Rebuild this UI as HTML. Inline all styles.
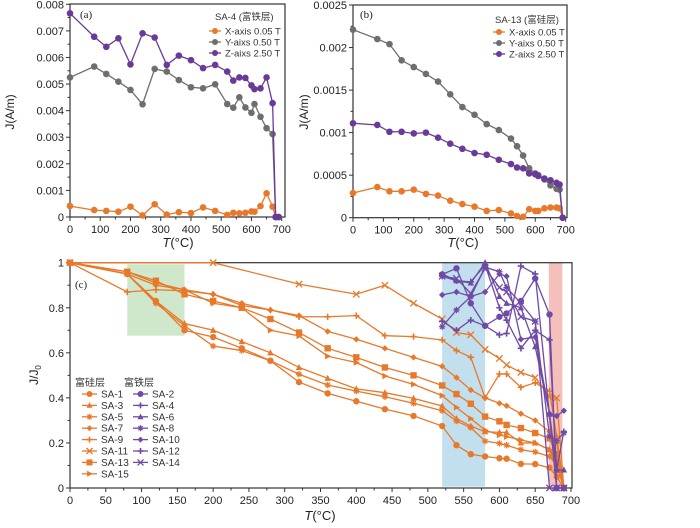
<!DOCTYPE html>
<html><head><meta charset="utf-8"><style>
body{margin:0;background:#fff}
svg{font-family:"Liberation Sans","Noto Sans CJK SC",sans-serif}
</style></head><body>
<svg id="s" width="700" height="523" viewBox="0 0 700 523"></svg>
<script>
const T_AB=[0,80,120,160,200,240,280,320,360,400,440,480,520,540,560,580,600,610,630,650,670,680,690];
const A_X=[0.00041,0.00026,0.00023,0.0002,0.00039,0.00006,0.00048,0.00009,0.00018,0.00015,0.00036,0.00023,0.00008,0.00016,0.00014,0.00016,0.00021,0.0002,0.00041,0.00089,0.00039,0,0];
const A_Y=[0.00525,0.00566,0.00538,0.00509,0.00478,0.00424,0.00557,0.00547,0.00515,0.00488,0.00484,0.00499,0.00425,0.00411,0.0045,0.00412,0.00392,0.00425,0.00377,0.00334,0.00312,0,0];
const A_Z=[0.00766,0.00678,0.0064,0.00672,0.00574,0.00691,0.00675,0.00572,0.00607,0.0059,0.0056,0.00572,0.00547,0.00513,0.00525,0.00523,0.00495,0.00481,0.00484,0.00525,0.00428,0,0];
const B_X=[0.00029,0.00036,0.00031,0.00031,0.00033,0.00028,0.00026,0.0002,0.00016,0.00013,0.00008,0.00009,0.00005,0.00002,0.00001,0.0001,0.00008,0.00008,0.00011,0.00012,0.00012,0.00011,0];
const B_Y=[0.00221,0.0021,0.00204,0.00185,0.00177,0.00169,0.0016,0.00145,0.0013,0.00121,0.0011,0.00103,0.00093,0.00084,0.00073,0.00058,0.00052,0.0005,0.00045,0.00038,0.00034,0.00033,0];
const B_Z=[0.00111,0.00109,0.00101,0.00101,0.00099,0.001,0.00094,0.00087,0.00081,0.00076,0.00074,0.00068,0.00063,0.00059,0.00058,0.00052,0.00051,0.00049,0.00046,0.00044,0.00041,0.00039,0];
const A_YTICKS=[0,0.001,0.002,0.003,0.004,0.005,0.006,0.007,0.008];
const B_YTICKS=[0,0.0005,0.001,0.0015,0.002,0.0025];
const X_TICKS=[0,100,200,300,400,500,600,700];
const C_XTICKS=[0,50,100,150,200,250,300,350,400,450,500,550,600,650,700];
const C_YTICKS=[0,0.2,0.4,0.6,0.8,1];
const T_O=[0,80,120,160,200,240,280,320,360,400,440,480,520,540,560,580,600,610,630,650,670,680,690];
const T_11=[0,200,320,400,440,480,520,540,560,580,600,610,630,650,670,680,690];
const SA1=[1,0.95,0.83,0.70,0.67,0.62,0.565,0.47,0.42,0.385,0.35,0.32,0.275,0.19,0.15,0.14,0.132,0.13,0.107,0.106,0.09,0.05,0];
const SA3=[1,0.95,0.83,0.73,0.70,0.65,0.60,0.535,0.487,0.44,0.423,0.398,0.364,0.308,0.275,0.25,0.247,0.247,0.2,0.2,0.17,0.08,0.08];
const SA5=[1,0.95,0.82,0.72,0.63,0.61,0.565,0.505,0.457,0.43,0.405,0.376,0.343,0.297,0.268,0.208,0.198,0.19,0.17,0.16,0.14,0.1,0];
const SA7=[1,0.95,0.90,0.88,0.86,0.82,0.79,0.765,0.695,0.66,0.62,0.58,0.54,0.49,0.435,0.40,0.376,0.365,0.33,0.30,0.25,0.2,0];
const SA9=[1,0.87,0.88,0.875,0.86,0.81,0.79,0.76,0.76,0.765,0.676,0.672,0.657,0.61,0.58,0.40,0.506,0.506,0.447,0.467,0.43,0.23,0];
const SA11=[1,1,0.905,0.86,0.90,0.82,0.75,0.69,0.68,0.615,0.575,0.546,0.513,0.49,0.405,0.40,0];
const SA13=[1,0.96,0.92,0.86,0.83,0.80,0.75,0.69,0.62,0.58,0.535,0.50,0.455,0.417,0.374,0.317,0.296,0.28,0.266,0.244,0.22,0.15,0];
const SA15=[1,0.96,0.91,0.88,0.82,0.80,0.70,0.675,0.585,0.557,0.497,0.46,0.41,0.358,0.308,0.257,0.235,0.228,0.213,0.2,0.17,0.12,0];
const T_P=[520,540,560,580,600,610,630,650,670,680,690];
const SA2=[0.948,0.975,0.82,0.72,0.76,0.775,0.83,0.93,0.77,0,0];
const SA4=[0.94,0.92,0.915,0.99,0.80,0.745,0.62,0.70,0.657,0.08,0.25];
const SA6=[0.95,0.92,0.91,1.0,0.85,0.82,0.80,0.627,0.33,0.08,0.08];
const SA8=[0.716,0.79,0.85,0.98,0.96,0.89,0.82,0.74,0.23,0.21,0.245];
const SA10=[0.857,0.87,0.85,0.87,0.95,0.94,0.66,0.67,0.33,0.32,0.343];
const SA12=[0.74,0.70,0.745,0.72,0.68,0.686,0.985,0.95,0.32,0,0];
const SA14=[0.94,0.93,0.864,0.975,0.89,0.87,0.76,0.74,0,0,0];

const NS="http://www.w3.org/2000/svg";
const svg=document.getElementById('s');
const OR="#e8792a",GR="#6e6e6e",PU="#6a3a98",PC="#6f4aa6";
function el(tag,attrs,parent){const e=document.createElementNS(NS,tag);for(const k in attrs)e.setAttribute(k,attrs[k]);(parent||svg).appendChild(e);return e;}
function txt(x,y,s,attrs,parent){const e=el('text',Object.assign({x:x,y:y},attrs),parent);e.textContent=s;return e;}
function marker(g,type,x,y,c,r){
  let m;
  if(type==='circle')m=el('circle',{cx:x,cy:y,r:r,fill:c},g);
  else if(type==='square')m=el('rect',{x:x-r,y:y-r,width:2*r,height:2*r,fill:c},g);
  else if(type==='tri')m=el('polygon',{points:`${x},${y-r*1.1} ${x-r},${y+r*0.8} ${x+r},${y+r*0.8}`,fill:c},g);
  else if(type==='rtri')m=el('polygon',{points:`${x+r*1.1},${y} ${x-r*0.8},${y-r} ${x-r*0.8},${y+r}`,fill:c},g);
  else if(type==='diamond')m=el('polygon',{points:`${x},${y-r} ${x+r},${y} ${x},${y+r} ${x-r},${y}`,fill:c},g);
  else if(type==='star')m=el('path',{d:`M${x-r},${y}L${x+r},${y}M${x},${y-r}L${x},${y+r}M${x-r*0.7},${y-r*0.7}L${x+r*0.7},${y+r*0.7}M${x-r*0.7},${y+r*0.7}L${x+r*0.7},${y-r*0.7}`,stroke:c,'stroke-width':1.2},g);
  else if(type==='plus')m=el('path',{d:`M${x-r},${y}L${x+r},${y}M${x},${y-r}L${x},${y+r}`,stroke:c,'stroke-width':1.6},g);
  else if(type==='x')m=el('path',{d:`M${x-r},${y-r}L${x+r},${y+r}M${x-r},${y+r}L${x+r},${y-r}`,stroke:c,'stroke-width':1.3},g);
  return m;
}
function series(name,T,V,sx,sy,c,type,r,parent){
  const g=el('g',{},parent);
  
  
  el('polyline',{points:T.map((t,i)=>sx(t)+','+sy(V[i])).join(' '),fill:'none',stroke:c,'stroke-width':1.3},g);
  T.forEach((t,i)=>marker(g,type,sx(t),sy(V[i]),c,r));
}
function axes(name,L,R,Tp,B,sx,sy,xt,yt,yfmt){
  const g=el('g',{});
  
  
  el('rect',{x:L,y:Tp,width:R-L,height:B-Tp,fill:'none',stroke:'#333','stroke-width':1.2},g);
  xt.forEach(v=>{const x=sx(v);el('line',{x1:x,y1:B,x2:x,y2:B+4,stroke:'#333'},g);txt(x,B+16,v,{'font-size':11,'text-anchor':'middle',fill:'#222'},g);});
  for(let i=0;i<xt.length-1;i++){const x=(sx(xt[i])+sx(xt[i+1]))/2;el('line',{x1:x,y1:B,x2:x,y2:B+2.5,stroke:'#333'},g);}
  yt.forEach(v=>{const y=sy(v);el('line',{x1:L,y1:y,x2:L-4,y2:y,stroke:'#333'},g);txt(L-6,y+4,yfmt(v),{'font-size':11,'text-anchor':'end',fill:'#222'},g);});
  for(let i=0;i<yt.length-1;i++){const y=(sy(yt[i])+sy(yt[i+1]))/2;el('line',{x1:L,y1:y,x2:L-2.5,y2:y,stroke:'#333'},g);}
}
function legendEntry(parent,x,y,c,type,label,r,len,fs){
  const g=el('g',{},parent);
  
  
  el('line',{x1:x,y1:y,x2:x+len,y2:y,stroke:c,'stroke-width':1.3},g);
  marker(g,type,x+len/2,y,c,r);
  txt(x+len+4,y+3.5,label,{'font-size':fs||10,fill:'#333'},g);
}
// Panel A
const axA=v=>70+v*0.3024, ayA=v=>217-v/0.008*212.7;
axes('panel-a-axes',70,285,4,217,axA,ayA,X_TICKS,A_YTICKS,v=>v===0?'0':v.toFixed(3));
series('series-a-x',T_AB,A_X,axA,ayA,OR,'circle',3.3);
series('series-a-y',T_AB,A_Y,axA,ayA,GR,'circle',3.3);
series('series-a-z',T_AB,A_Z,axA,ayA,PU,'circle',3.3);
txt(80,18,'(a)',{'font-size':11,'font-family':'Liberation Serif',fill:'#222'});
let lg=el('g',{});
txt(215,20,'SA-4 (富铁层)',{'font-size':9.5,fill:'#333'},lg);
legendEntry(lg,209,31,OR,'circle','X-axis 0.05 T',3,12,9.5);
legendEntry(lg,209,42,GR,'circle','Y-aixs 0.50 T',3,12,9.5);
legendEntry(lg,209,53,PU,'circle','Z-aixs 2.50 T',3,12,9.5);
let t=txt(0,0,'J(A/m)',{'font-size':12,'text-anchor':'middle',transform:'translate(14,112) rotate(-90)',fill:'#222'});
t=el('text',{x:178,y:247,'font-size':13,'text-anchor':'middle',fill:'#222'});t.innerHTML='<tspan font-style="italic">T</tspan>(°C)';

// Panel B
const axB=v=>353+v*0.3038, ayB=v=>217.7-v/0.0025*212.7;
axes('panel-b-axes',353,567,5,217.7,axB,ayB,X_TICKS,B_YTICKS,v=>v===0?'0':String(v));
series('series-b-x',T_AB,B_X,axB,ayB,OR,'circle',3.3);
series('series-b-y',T_AB,B_Y,axB,ayB,GR,'circle',3.3);
series('series-b-z',T_AB,B_Z,axB,ayB,PU,'circle',3.3);
txt(360,18,'(b)',{'font-size':11,'font-family':'Liberation Serif',fill:'#222'});
lg=el('g',{});
txt(495,23,'SA-13 (富硅层)',{'font-size':9.5,fill:'#333'},lg);
legendEntry(lg,493,32,OR,'circle','X-axis 0.05 T',3,12,9.5);
legendEntry(lg,493,43,GR,'circle','Y-aixs 0.50 T',3,12,9.5);
legendEntry(lg,493,54,PU,'circle','Z-aixs 2.50 T',3,12,9.5);
t=txt(0,0,'J(A/m)',{'font-size':12,'text-anchor':'middle',transform:'translate(308,112) rotate(-90)',fill:'#222'});

t=el('text',{x:463,y:247,'font-size':13,'text-anchor':'middle',fill:'#222'});t.innerHTML='<tspan font-style="italic">T</tspan>(°C)';

// Panel C
const axC=v=>70+v*0.7157, ayC=v=>488-v*225.3;
let sh=el('rect',{x:axC(80),y:ayC(0.993),width:axC(160)-axC(80),height:ayC(0.676)-ayC(0.993),fill:'rgba(130,195,120,0.38)'});
sh=el('rect',{x:axC(520),y:ayC(1),width:axC(580)-axC(520),height:ayC(0.006)-ayC(1),fill:'rgba(120,185,215,0.45)'});
sh=el('rect',{x:axC(669),y:ayC(1),width:axC(688)-axC(669),height:ayC(0.006)-ayC(1),fill:'rgba(235,130,120,0.5)'});
axes('panel-c-axes',70,572,262.7,488,axC,ayC,C_XTICKS,C_YTICKS,v=>String(v));
const ORS=[['SA-1',SA1,'circle',T_O],['SA-3',SA3,'tri',T_O],['SA-5',SA5,'star',T_O],['SA-7',SA7,'diamond',T_O],['SA-9',SA9,'plus',T_O],['SA-11',SA11,'x',T_11],['SA-13',SA13,'square',T_O],['SA-15',SA15,'rtri',T_O]];
const PUS=[['SA-2',SA2,'circle'],['SA-4',SA4,'plus'],['SA-6',SA6,'tri'],['SA-8',SA8,'star'],['SA-10',SA10,'diamond'],['SA-12',SA12,'plus'],['SA-14',SA14,'x']];
ORS.forEach(s=>series('series-'+s[0].toLowerCase(),s[3],s[1],axC,ayC,OR,s[2],3.2));
PUS.forEach(s=>series('series-'+s[0].toLowerCase(),T_P,s[1],axC,ayC,PC,s[2],3.2));
txt(75,288,'(c)',{'font-size':11,'font-family':'Liberation Serif',fill:'#222'});
lg=el('g',{});
txt(75,386,'富硅层',{'font-size':10,fill:'#333'},lg);
txt(124,386,'富铁层',{'font-size':10,fill:'#333'},lg);
ORS.forEach((s,i)=>legendEntry(lg,82,394+i*11.4,OR,s[2],s[0],3,15));
PUS.forEach((s,i)=>legendEntry(lg,133,394+i*11.4,PC,s[2],s[0],3,15));
t=el('text',{'font-size':12,'text-anchor':'middle',transform:'translate(38,375) rotate(-90)',fill:'#222'});t.innerHTML='J/J<tspan font-size="8" dy="3">0</tspan>';

t=el('text',{x:320,y:520,'font-size':13,'text-anchor':'middle',fill:'#222'});t.innerHTML='<tspan font-style="italic">T</tspan>(°C)';

</script>
</body></html>
